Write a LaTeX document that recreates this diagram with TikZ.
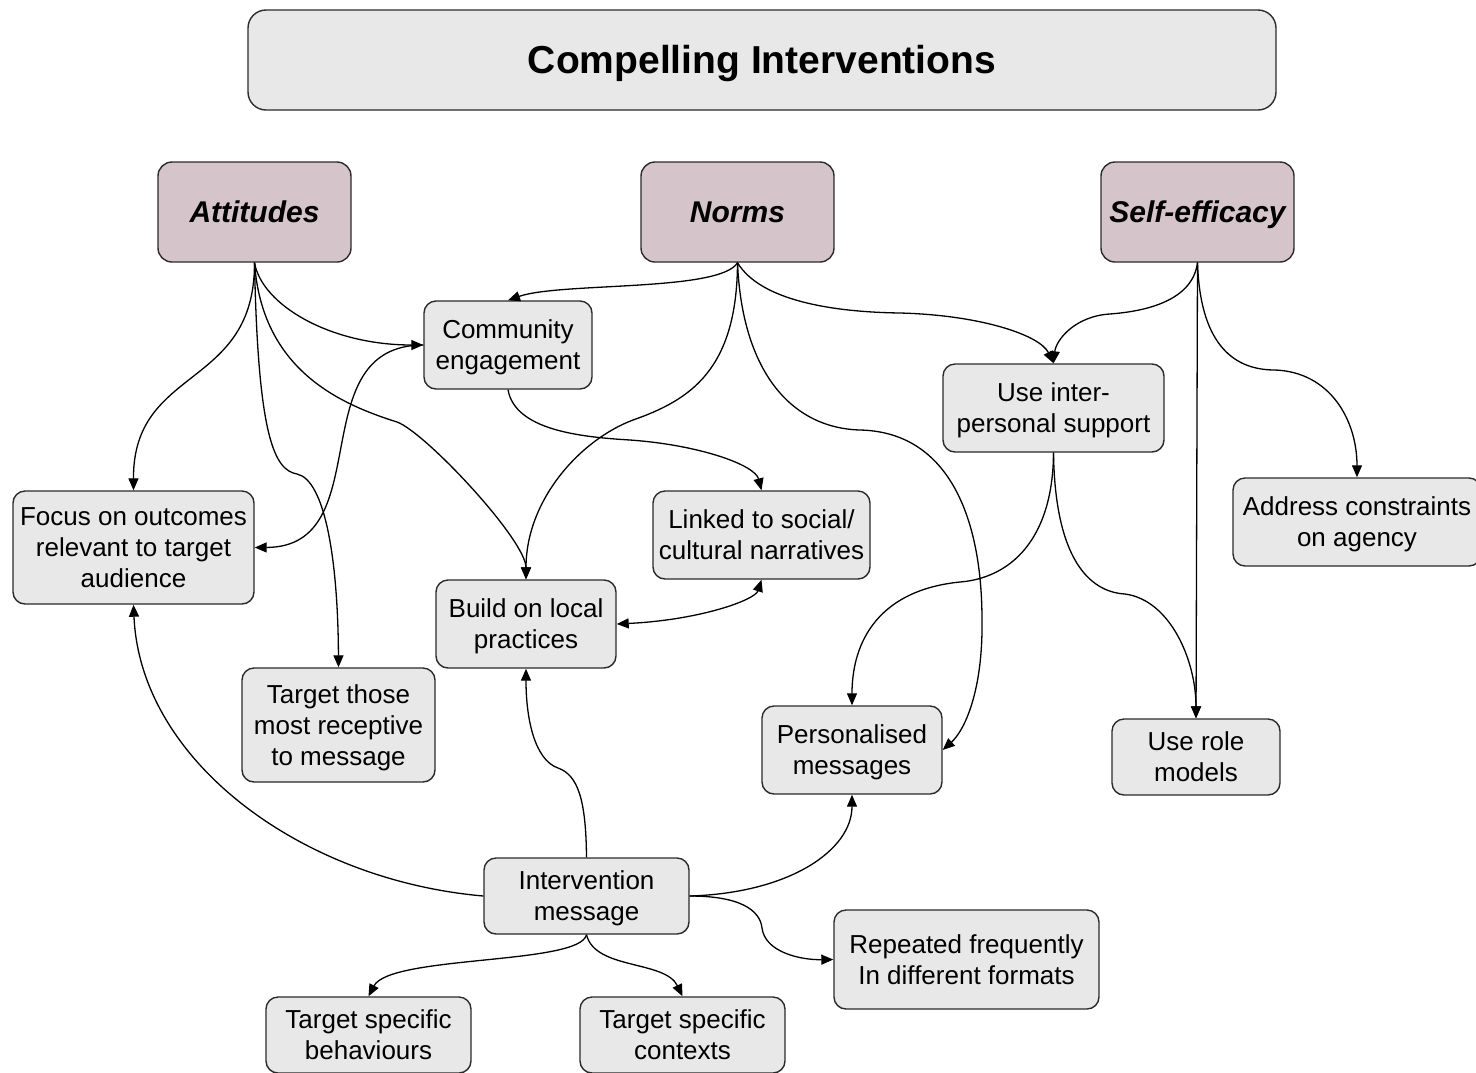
\documentclass[tikz,border=0pt]{standalone}
\usepackage{fontspec}
\setmainfont{Liberation Sans}
\usetikzlibrary{arrows.meta}

\definecolor{boxgray}{HTML}{E8E8E8}
\definecolor{headfill}{HTML}{D5C4C9}
\definecolor{edgeline}{HTML}{2B2B2B}

% struts giving every text line the same ascent and descent
\newcommand{\bodystrut}{\rule[-6.5pt]{0pt}{31pt}}
\newcommand{\headstrut}{\rule[-6.4pt]{0pt}{33.5pt}}
\newcommand{\titlestrut}{\rule[-8.2pt]{0pt}{43.5pt}}

\begin{document}
\begin{tikzpicture}[
  x=1pt, y=-1pt,
  every node/.style={inner sep=0pt, align=center},
  boxbase/.style={draw=edgeline, line width=1.4pt, fill=boxgray, rounded corners=12pt},
  box/.style={boxbase, font=\fontsize{26}{31}\selectfont,
              execute at end node=\bodystrut},
  headbox/.style={boxbase, fill=headfill, rounded corners=14pt,
              minimum width=193pt, minimum height=100pt,
              font=\fontsize{30}{36}\selectfont\bfseries\itshape,
              execute at begin node=\headstrut},
  titlebox/.style={boxbase, rounded corners=18pt, minimum width=1028pt, minimum height=100pt,
              font=\fontsize{39}{46}\selectfont\bfseries,
              execute at begin node=\titlestrut},
  link/.style={line width=1.3pt, draw=black, -{Triangle[length=12pt,width=10pt]}},
  biglink/.style={line width=1.3pt, draw=black,
              {Triangle[length=12pt,width=10pt]}-{Triangle[length=12pt,width=10pt]}}
]
\useasboundingbox (0,0) rectangle (1476,1072);
\clip (0,0) rectangle (1476,1072);

% title banner
\node[titlebox] (title) at (762,60) {Compelling Interventions};

% three determinants
\node[headbox] (att)   at (254.5,212)  {Attitudes};
\node[headbox] (norms) at (737.5,212)  {Norms};
\node[headbox] (self)  at (1197.5,212) {Self-efficacy};

% strategy boxes
\node[box, minimum width=168pt, minimum height=88pt]  (comm)    at (508,345)    {\bodystrut Community\\engagement};
\node[box, minimum width=241pt, minimum height=113pt] (focus)   at (133.5,547.5){\bodystrut Focus on outcomes\\relevant to target\\audience};
\node[box, minimum width=193pt, minimum height=114pt] (recept)  at (338.5,725)  {\bodystrut Target those\\most receptive\\to message};
\node[box, minimum width=180pt, minimum height=88pt]  (build)   at (526,624)    {\bodystrut Build on local\\practices};
\node[box, minimum width=217pt, minimum height=88pt]  (linked)  at (761.5,535)  {\bodystrut Linked to social/\\cultural narratives};
\node[box, minimum width=221pt, minimum height=88pt]  (inter)   at (1053.5,408) {\bodystrut Use inter-\\personal support};
\node[box, minimum width=248pt, minimum height=88pt]  (address) at (1357,522)   {\bodystrut Address constraints\\on agency};
\node[box, minimum width=180pt, minimum height=88pt]  (pers)    at (852,750)    {\bodystrut Personalised\\messages};
\node[box, minimum width=168pt, minimum height=76pt]  (role)    at (1196,757)   {\bodystrut Use role\\models};
\node[box, minimum width=205pt, minimum height=76pt]  (imsg)    at (586.5,896)  {\bodystrut Intervention\\message};
\node[box, minimum width=265pt, minimum height=99pt]  (repeat)  at (966.5,959.5){\bodystrut Repeated frequently\\In different formats};
\node[box, minimum width=205pt, minimum height=76pt]  (behav)   at (368.5,1035) {\bodystrut Target specific\\behaviours};
\node[box, minimum width=205pt, minimum height=76pt]  (context) at (682.5,1035) {\bodystrut Target specific\\contexts};

% links from Attitudes
\draw[link] (att.south) .. controls (255,390) and (133,365) .. (focus.north);
\draw[link] (att.south) .. controls (262,305) and (330,345) .. (comm.west);
\draw[link] (att.south) .. controls (262,370) and (340,404) .. (397,422)
                        .. controls (425,432) and (526,540) .. (build.north);
\draw[link] (att.south) .. controls (258,440) and (275,470) .. (297,474)
                        .. controls (325,480) and (338,560) .. (recept.north);
\draw[link] (comm.west) .. controls (300,345) and (380,547) .. (focus.east);

% links from Norms
\draw[link] (norms.south) .. controls (720,292) and (560,282) .. (comm.north);
\draw[link] (norms.south) .. controls (737,370) and (690,400) .. (633,420)
                          .. controls (580,440) and (526,500) .. (build.north);
\draw[link] (norms.south) .. controls (742,370) and (790,428) .. (860,430)
                          .. controls (950,432) and (982,520) .. (982,620)
                          .. controls (983,690) and (965,730) .. (pers.east);
\draw[link] (norms.south) .. controls (760,300) and (830,312) .. (900,313)
                          .. controls (980,315) and (1040,335) .. (inter.north);

% links from Self-efficacy
\draw[link] (self.south) .. controls (1192,305) and (1135,312) .. (1110,314)
                         .. controls (1075,316) and (1056,340) .. (inter.north);
\draw[link] (self.south) -- (role.north);
\draw[link] (self.south) .. controls (1200,340) and (1230,370) .. (1275,370)
                         .. controls (1330,372) and (1357,420) .. (address.north);

% links from interpersonal support
\draw[link] (inter.south) .. controls (1053,540) and (1010,578) .. (960,582)
                          .. controls (880,590) and (852,640) .. (pers.north);
\draw[link] (inter.south) .. controls (1055,560) and (1090,592) .. (1125,594)
                          .. controls (1170,600) and (1196,660) .. (role.north);

% community engagement and local practices
\draw[link] (comm.south) .. controls (515,430) and (580,437) .. (630,440)
                         .. controls (700,445) and (755,465) .. (linked.north);
\draw[biglink] (build.east) .. controls (700,620) and (755,600) .. (linked.south);

% links from the intervention message
\draw[link] (imsg.west) .. controls (300,880) and (140,760) .. (focus.south);
\draw[link] (imsg.north) .. controls (586,800) and (578,775) .. (558,768)
                         .. controls (535,760) and (526,720) .. (build.south);
\draw[link] (imsg.east) .. controls (790,893) and (852,850) .. (pers.south);
\draw[link] (imsg.east) .. controls (740,896) and (760,910) .. (762,928)
                        .. controls (765,952) and (800,960) .. (repeat.west);
\draw[link] (imsg.south) .. controls (580,965) and (390,955) .. (behav.north);
\draw[link] (imsg.south) .. controls (595,970) and (665,960) .. (context.north);
\end{tikzpicture}
\end{document}
